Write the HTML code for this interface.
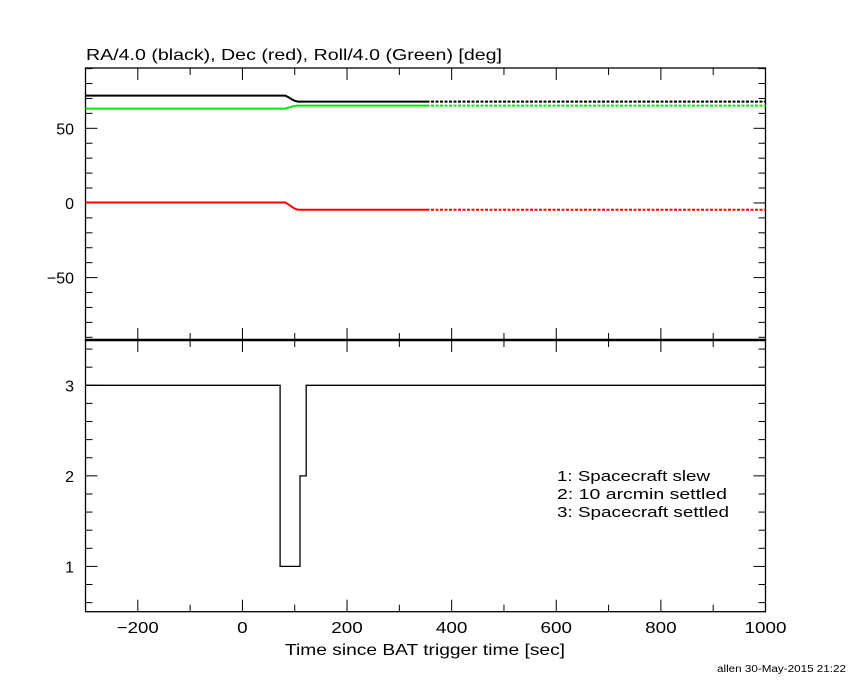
<!DOCTYPE html>
<html><head><meta charset="utf-8"><style>
body{margin:0;background:#fff}
svg text{font-family:"Liberation Sans",sans-serif;fill:#000}
</style></head><body>
<svg id="chart" width="850" height="680" viewBox="0 0 850 680" xmlns="http://www.w3.org/2000/svg">
<rect width="850" height="680" fill="#fff"/>
<text x="86" y="60" font-size="16" textLength="416" lengthAdjust="spacingAndGlyphs">RA/4.0 (black), Dec (red), Roll/4.0 (Green) [deg]</text>
<text x="285" y="655" font-size="16" textLength="280" lengthAdjust="spacingAndGlyphs">Time since BAT trigger time [sec]</text>
<text x="717" y="672" font-size="10" textLength="129" lengthAdjust="spacingAndGlyphs">allen 30-May-2015 21:22</text>
<g id="g"></g>
<text x="557" y="481" font-size="15" textLength="153" lengthAdjust="spacingAndGlyphs">1: Spacecraft slew</text>
<text x="557" y="499" font-size="15" textLength="170" lengthAdjust="spacingAndGlyphs">2: 10 arcmin settled</text>
<text x="557" y="517" font-size="15" textLength="172" lengthAdjust="spacingAndGlyphs">3: Spacecraft settled</text>
</svg>
<script>
const times=[-300,82,88,94,100,106,352];
const raVals=[71.9,71.9,70.8,69.5,68.4,67.9,67.9];
const decVals=[0.3,0.3,-1.0,-2.5,-3.8,-4.5,-4.5];
const rollVals=[63.2,63.2,63.8,64.5,65.0,65.2,65.2];
const dotTimes=[352,1000];
const raDot=[67.9,67.9];
const decDot=[-4.5,-4.5];
const rollDot=[65.2,65.2];
const stepTimes=[-300,72,110,122,1000];
const stepVals=[3,1,2,3];
const xTicks=[-200,0,200,400,600,800,1000];
const topTicks=[-50,0,50];
const botTicks=[1,2,3];

const X0=85.5,X1=765.5,T0=-300,T1=1000;
const x=t=>X0+(t-T0)/(T1-T0)*(X1-X0);
const TY0=68,TY1=340,TMIN=-91.8,TMAX=90.4;
const yt=v=>TY1-(v-TMIN)/(TMAX-TMIN)*(TY1-TY0);
const BY0=340,BY1=611.7,BMIN=0.5,BMAX=3.5;
const yb=v=>BY1-(v-BMIN)/(BMAX-BMIN)*(BY1-BY0);
const NS="http://www.w3.org/2000/svg",g=document.getElementById('g');
function mk(tag,a){const e=document.createElementNS(NS,tag);for(const k in a)e.setAttribute(k,a[k]);g.appendChild(e);return e;}
function line(x1,y1,x2,y2,w){return mk('line',{x1,y1,x2,y2,stroke:'#000','stroke-width':w||1});}
let e=mk('rect',{x:X0,y:TY0,width:X1-X0,height:TY1-TY0,fill:'none',stroke:'#000','stroke-width':1.3});


e=mk('rect',{x:X0,y:BY0,width:X1-X0,height:BY1-BY0,fill:'none',stroke:'#000','stroke-width':1.3});


e=line(X0,340,X1,340,2.5);


for(let t=-300;t<=1000;t+=100){const L=(t%200===0)?12:7;const xx=x(t);
 line(xx,TY0,xx,TY0+L);line(xx,BY0-L,xx,BY0+L);line(xx,BY1,xx,BY1-L);}
xTicks.forEach(t=>{const s=(t<0?'\u2212'+(-t):String(t));const el=mk('text',{x:x(t),y:633,'font-size':16,'text-anchor':'middle',textLength:s.length*10.5,lengthAdjust:'spacingAndGlyphs'});el.textContent=s;

});
for(let v=-90;v<=90;v+=10){const yy=yt(v);const L=(v%50===0)?12:7;line(X0,yy,X0+L,yy);line(X1,yy,X1-L,yy);}
topTicks.forEach(v=>{const el=mk('text',{x:74,y:yt(v)+6,'font-size':16,'text-anchor':'end'});el.textContent=(v<0?'\u2212'+(-v):v);

});
for(let v=0.6;v<3.5;v+=0.2){const r=Math.round(v*10)/10;const yy=yb(r);const L=(Math.abs(r-Math.round(r))<1e-6)?12:7;line(X0,yy,X0+L,yy);line(X1,yy,X1-L,yy);}
botTicks.forEach(v=>{const el=mk('text',{x:74,y:yb(v)+6,'font-size':16,'text-anchor':'end'});el.textContent=v;

});
function poly(ts,vs,col,dash,name){const pts=ts.map((t,i)=>x(t).toFixed(1)+','+yt(vs[i]).toFixed(1)).join(' ');
 const a={points:pts,fill:'none',stroke:col,'stroke-width':2};if(dash)a['stroke-dasharray']='3,1.5';const el=mk('polyline',a);
 
 }
poly(times,raVals,'#000',0,'ra-line');
poly(times,rollVals,'#00ee00',0,'roll-line');
poly(times,decVals,'#f00',0,'dec-line');
poly(dotTimes,raDot,'#000',1,'ra-dotted');
poly(dotTimes,rollDot,'#00ee00',1,'roll-dotted');
poly(dotTimes,decDot,'#f00',1,'dec-dotted');
let p=[];for(let i=0;i<stepVals.length;i++){p.push(x(stepTimes[i]).toFixed(1)+','+yb(stepVals[i]).toFixed(1));p.push(x(stepTimes[i+1]).toFixed(1)+','+yb(stepVals[i]).toFixed(1));}
e=mk('polyline',{points:p.join(' '),fill:'none',stroke:'#000','stroke-width':1.3});


</script>
</body></html>
